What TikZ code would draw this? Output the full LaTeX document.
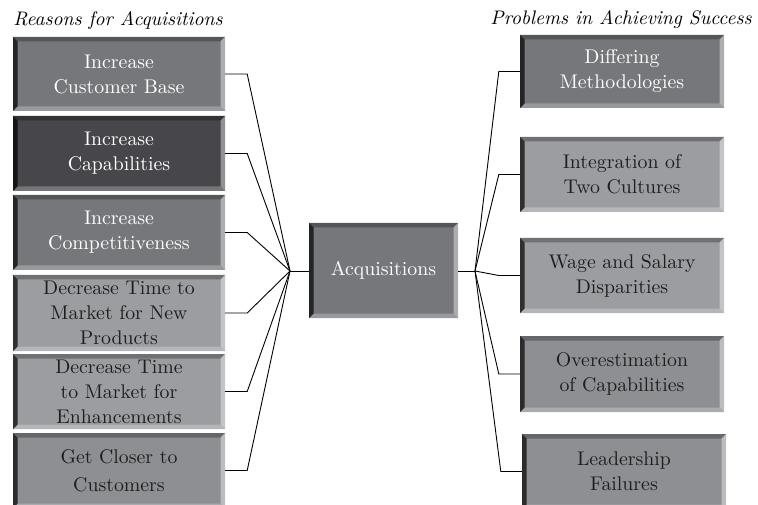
\documentclass[tikz,border=0pt]{standalone}
\usepackage{fontspec}
\setmainfont{lmroman10-regular.otf}[ItalicFont=lmroman10-italic.otf,BoldFont=lmroman10-bold.otf]
\definecolor{faceA}{HTML}{76777B}
\definecolor{faceD}{HTML}{47474B}
\definecolor{faceL}{HTML}{9C9DA1}
\definecolor{faceM}{HTML}{8E8F93}
\definecolor{txtD}{HTML}{1E1E1E}
\tikzset{
  x=1pt, y=-1pt,
  bevbox/.style={inner sep=0pt, draw=none, fill=#1, align=center,
    font=\fontsize{19.8}{25}\selectfont,
    path picture={
      \def\bw{4.5pt}
      \fill[#1!72!black] (path picture bounding box.north west) -- (path picture bounding box.north east)
        -- ([xshift=-\bw,yshift=-\bw]path picture bounding box.north east) -- ([xshift=\bw,yshift=-\bw]path picture bounding box.north west) -- cycle;
      \fill[#1!75!white] (path picture bounding box.south west) -- (path picture bounding box.south east)
        -- ([xshift=-\bw,yshift=\bw]path picture bounding box.south east) -- ([xshift=\bw,yshift=\bw]path picture bounding box.south west) -- cycle;
      \fill[#1!60!white] (path picture bounding box.north east) -- (path picture bounding box.south east)
        -- ([xshift=-\bw,yshift=\bw]path picture bounding box.south east) -- ([xshift=-\bw,yshift=-\bw]path picture bounding box.north east) -- cycle;
      \fill[#1!30!black] (path picture bounding box.north west) -- (path picture bounding box.south west)
        -- ([xshift=\bw,yshift=\bw]path picture bounding box.south west) -- ([xshift=\bw,yshift=-\bw]path picture bounding box.north west) -- cycle;
    }},
  lbox/.style={bevbox=#1, minimum width=212pt, minimum height=75pt},
  rbox/.style={bevbox=#1, minimum width=204pt, minimum height=75pt},
  wtxt/.style={text=white},
  dtxt/.style={text=txtD},
  title/.style={font=\fontsize{19.6}{25}\selectfont\itshape, anchor=base, inner sep=0pt},
  conn/.style={draw=black, line width=0.9pt}
}
\begin{document}
\begin{tikzpicture}
\useasboundingbox (0,0) rectangle (758,505);
\node[title] (tl) at (118,26) {Reasons for Acquisitions};
\node[title] (tr) at (621,25) {Problems in Achieving Success};

\node[lbox=faceA, wtxt, minimum height=74pt] (L1) at (119,74) {Increase\\Customer Base};
\node[lbox=faceD, wtxt] (L2) at (119,153.5) {Increase\\Capabilities};
\node[lbox=faceA, wtxt] (L3) at (119,232.5) {Increase\\Competitiveness};
\node[lbox=faceL, dtxt, minimum height=76pt] (L4) at (119,313) {Decrease Time to\\Market for New\\Products};
\node[lbox=faceL, dtxt] (L5) at (119,391.5) {Decrease Time\\to Market for\\Enhancements};
\node[lbox=faceM, dtxt] (L6) at (119,470.5) {Get Closer to\\[3pt]Customers};

\node[bevbox=faceA, wtxt, minimum width=149pt, minimum height=95pt] (C) at (383.5,270.5) {Acquisitions};

\node[rbox=faceA, wtxt, minimum height=73pt] (R1) at (622,71.5) {Differing\\Methodologies};
\node[rbox=faceL, dtxt] (R2) at (622,174.5) {Integration of\\Two Cultures};
\node[rbox=faceL, dtxt] (R3) at (622,275.5) {Wage and Salary\\Disparities};
\node[rbox=faceM, dtxt, minimum height=76pt] (R4) at (622,374) {Overestimation\\of Capabilities};
\node[rbox=faceM, dtxt] (R5) at (624,471.5) {Leadership\\Failures};

\coordinate (hl) at (290,271);
\coordinate (hr) at (475,271);

\foreach \n in {L1,L2,L3,L4,L5,L6}
  \draw[conn] (\n.east) -- ++(22,0) -- (hl);
\draw[conn] (hl) -- (C.west |- hl);
\draw[conn] (C.east |- hr) -- (hr);
\foreach \n in {R1,R2,R3,R4,R5}
  \draw[conn] (hr) -- ([xshift=-21pt]\n.west) -- (\n.west);
\end{tikzpicture}
\end{document}
